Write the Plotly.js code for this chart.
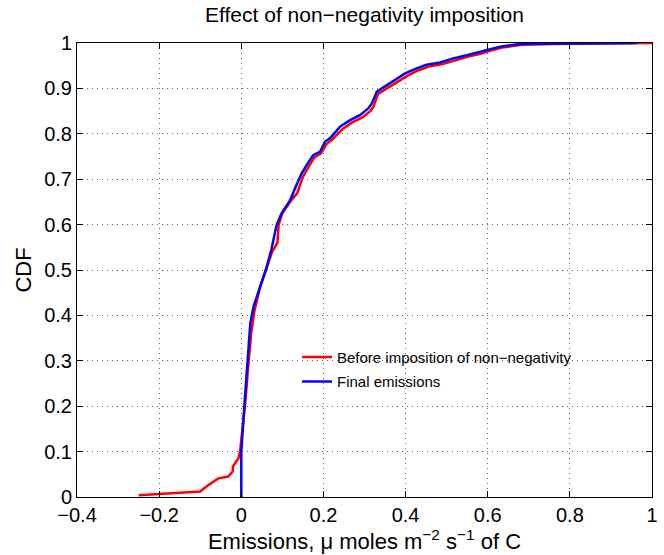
<!DOCTYPE html>
<html><head><meta charset="utf-8">
<script src="https://cdn.plot.ly/plotly-3.0.1.min.js"></script>
<style>html,body{margin:0;padding:0;background:#fff}</style>
</head><body><div id="chart" style="width:664px;height:555px"></div>
<script>
const beforeX = [-0.25,-0.10,-0.085,-0.056,-0.032,-0.021,-0.02,-0.007,-0.003,0.003,0.010,0.018,0.024,0.032,0.045,0.060,0.075,0.088,0.091,0.100,0.122,0.136,0.150,0.163,0.178,0.194,0.208,0.220,0.246,0.270,0.295,0.314,0.322,0.333,0.358,0.378,0.405,0.432,0.456,0.488,0.520,0.553,0.585,0.605,0.635,0.683,0.75,0.90,0.96,1.0];
const beforeY = [0.004,0.012,0.023,0.041,0.045,0.056,0.068,0.085,0.100,0.148,0.210,0.300,0.360,0.410,0.460,0.500,0.540,0.560,0.600,0.625,0.654,0.669,0.705,0.726,0.748,0.757,0.778,0.786,0.810,0.825,0.836,0.850,0.860,0.888,0.902,0.913,0.928,0.940,0.948,0.953,0.962,0.970,0.977,0.983,0.990,0.996,0.998,0.999,0.999,1.0];
const finalX = [0,0,0.009,0.015,0.022,0.030,0.045,0.061,0.073,0.082,0.086,0.098,0.119,0.131,0.147,0.159,0.175,0.192,0.204,0.216,0.241,0.265,0.289,0.309,0.318,0.330,0.354,0.370,0.399,0.427,0.451,0.484,0.516,0.549,0.581,0.601,0.630,0.679,0.963];
const finalY = [0,0.100,0.220,0.290,0.383,0.420,0.463,0.504,0.544,0.581,0.599,0.625,0.654,0.680,0.713,0.731,0.753,0.761,0.783,0.790,0.816,0.830,0.841,0.856,0.867,0.893,0.907,0.918,0.933,0.944,0.952,0.957,0.966,0.973,0.980,0.985,0.992,0.998,1.0];
const seriesNames = ['Before imposition of non\u2212negativity','Final emissions'];
const xTicks = [-0.4,-0.2,0,0.2,0.4,0.6,0.8,1];
const yTicks = [0,0.1,0.2,0.3,0.4,0.5,0.6,0.7,0.8,0.9,1];

const FONT = 'Liberation Sans, Arial, Helvetica, sans-serif';
const traces = [
  {x: beforeX, y: beforeY, mode:'lines', name: seriesNames[0], legendgroup:'a', line:{color:'#ff0000', width:2.5}},
  {x: finalX, y: finalY, mode:'lines', name: seriesNames[1], legendgroup:'b', line:{color:'#0000ff', width:2.5}}
];
const axisCommon = {
  showline:true, linecolor:'#000', linewidth:1, mirror:'allticks',
  ticks:'inside', ticklen:6, tickcolor:'#000',
  showgrid:true, gridcolor:'rgba(0,0,0,0.6)', griddash:'1px,4px', gridwidth:1,
  zeroline:false, tickfont:{family:FONT, size:20, color:'#000'}
};
const layout = {
  width:664, height:555,
  margin:{l:77, r:12, t:43, b:58},
  paper_bgcolor:'#fff', plot_bgcolor:'#fff',
  font:{family:FONT, color:'#000'},
  title:{text:'Effect of non\u2212negativity imposition', font:{family:FONT, size:21, color:'#000'}, x:0.549, xanchor:'center', y:0.973, yanchor:'middle'},
  xaxis: Object.assign({}, axisCommon, {range:[-0.4,1], tickvals:xTicks, ticktext:xTicks.map(v=>v<0?'\u2212'+Math.abs(v):String(v)),
    title:{text:'Emissions, \u03bc moles m<sup>\u22122</sup> s<sup>\u22121</sup> of C', font:{family:FONT, size:22}, standoff:2}}),
  yaxis: Object.assign({}, axisCommon, {range:[0,1], tickvals:yTicks, ticktext:yTicks.map(String),
    title:{text:'CDF', font:{family:FONT, size:22}, standoff:6}}),
  showlegend:true,
  legend:{x:0.3826, y:0.344, xanchor:'left', yanchor:'top', bgcolor:'rgba(0,0,0,0)', borderwidth:0,
    font:{family:FONT, size:15, color:'#000'}, traceorder:'grouped', tracegroupgap:2, itemwidth:30}
};
Plotly.newPlot('chart', traces, layout, {displayModeBar:false, staticPlot:true});
</script>
</body></html>
